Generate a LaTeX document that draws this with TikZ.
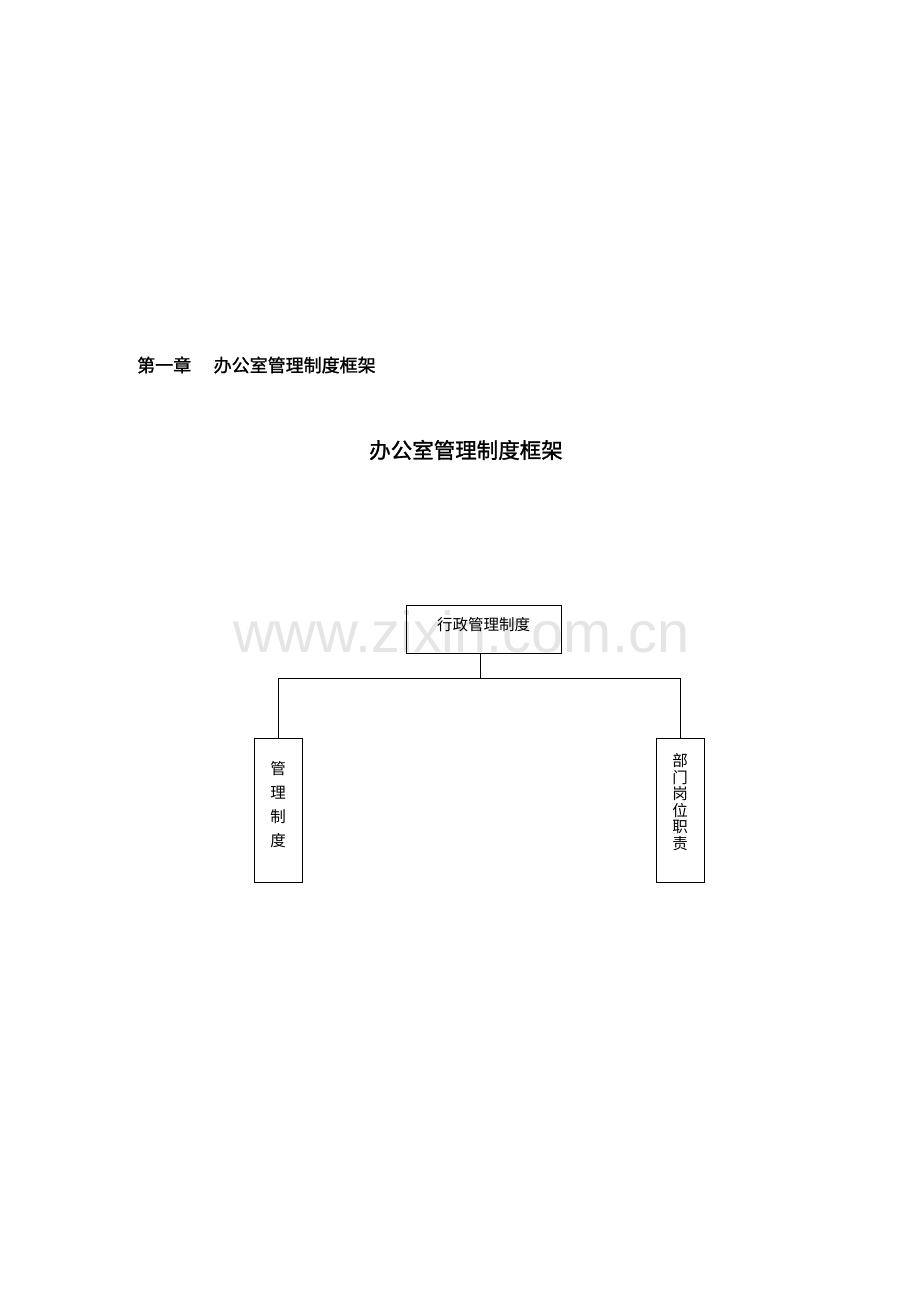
\documentclass[tikz,border=0pt]{standalone}
\usepackage{fontspec}
\setsansfont{Liberation Sans}
\newfontfamily\cjk{Noto Sans CJK SC}
\newfontfamily\cjkmed{Noto Sans CJK SC}[FakeBold=1.2]
\usetikzlibrary{positioning}
\tikzset{
  boxline/.style={draw=black, line width=0.8pt},
  vbox/.style={boxline, minimum width=48pt, minimum height=144pt, inner sep=0pt},
  topbox/.style={boxline, minimum width=155pt, minimum height=48pt, inner sep=0pt},
  conn/.style={draw=black, line width=0.8pt},
  boxtext/.style={font=\cjk\fontsize{15.5}{16.5}\selectfont, inner sep=0pt, align=center},
}
\begin{document}
\begin{tikzpicture}[x=1pt,y=-1pt]
\useasboundingbox (0,0) rectangle (920,1302);
% watermark
\node[anchor=base west, inner sep=0pt, text=black!10, font=\sffamily\fontsize{57.8}{60}\selectfont] (wm) at (233,652) {www.zixin.com.cn};
% headings
\node[anchor=west, inner sep=0pt, font=\cjkmed\fontsize{18}{20}\selectfont] (chap) at (137,365) {第一章\hspace{1.25em}办公室管理制度框架};
\node[inner sep=0pt, font=\cjkmed\fontsize{21.5}{24}\selectfont] (title) at (466,450) {办公室管理制度框架};
% boxes
\node[topbox] (top) at (483.5,629) {};
\node[boxtext] (toptext) at (483.5,625) {行政管理制度};
\node[vbox] (left) at (278,810) {};
\node[boxtext, font=\cjk\fontsize{15.5}{24}\selectfont] (lefttext) at (278,805) {管\\理\\制\\度};
\node[vbox] (right) at (680,810) {};
\node[boxtext] (righttext) at (680,802) {部\\门\\岗\\位\\职\\责};
% connectors
\coordinate (mid) at (480,678);
\coordinate (lj) at (278,678);
\coordinate (rj) at (680,678);
\draw[conn] (top.south -| mid) -- (mid);
\draw[conn] (left.north) -- (lj) -- (rj) -- (right.north);
\end{tikzpicture}
\end{document}
